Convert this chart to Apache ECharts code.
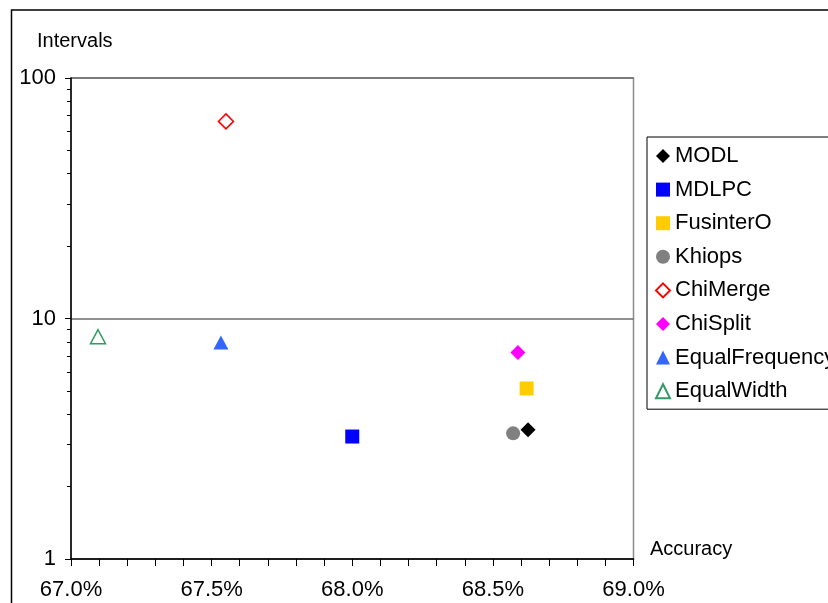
<!DOCTYPE html>
<html>
<head>
<meta charset="utf-8">
<script src="https://cdn.jsdelivr.net/npm/echarts@6/dist/echarts.min.js"></script>
<style>
  html, body { margin: 0; padding: 0; background: #fff; }
  #chart { width: 828px; height: 603px; }
</style>
</head>
<body>
<div id="chart"></div>
<script>
// Discretization methods: accuracy (%) versus number of intervals (log scale)
const methods   = ['MODL', 'MDLPC', 'FusinterO', 'Khiops', 'ChiMerge', 'ChiSplit', 'EqualFrequency', 'EqualWidth'];
const accuracy  = [68.625, 68.0, 68.62, 68.572, 67.551, 68.589, 67.533, 67.096];
const intervals = [3.45, 3.23, 5.12, 3.33, 66, 7.22, 7.95, 8.4];

const colors   = ['#000000', '#0000ff', '#ffcc00', '#808080', '#ff0000', '#ff00ff', '#3366ff', '#339966'];
const symbols  = ['diamond', 'rect', 'rect', 'circle', 'diamond', 'diamond', 'triangle', 'triangle'];
const hollow   = [false, false, false, false, true, false, false, true];
const sizes    = [15, 14, 14, 14, 15, 15, [15, 14], [15, 14]];

const xTicks = [67.0, 67.5, 68.0, 68.5, 69.0];
const yMinorTicks = [2, 3, 4, 5, 6, 7, 8, 9, 20, 30, 40, 50, 60, 70, 80, 90];

const FONT = "'Liberation Sans', Arial, sans-serif";

const series = methods.map((name, i) => ({
  name: name,
  type: 'scatter',
  symbol: symbols[i],
  symbolSize: sizes[i],
  data: [[accuracy[i], intervals[i]]],
  itemStyle: hollow[i]
    ? { color: '#ffffff', borderColor: colors[i], borderWidth: 1.5, opacity: 1 }
    : { color: colors[i], opacity: 1 },
  emphasis: { disabled: true }
}));

const chart = echarts.init(document.getElementById('chart'), null, { renderer: 'canvas' });

chart.setOption({
  animation: false,
  backgroundColor: '#ffffff',
  grid: {
    left: 71, top: 78, width: 562.5, height: 481,
    show: true, borderColor: '#8c8c8c', borderWidth: 1.5, backgroundColor: 'transparent'
  },
  xAxis: {
    type: 'value',
    min: xTicks[0],
    max: xTicks[xTicks.length - 1],
    interval: 0.5,
    axisLine: { show: true, onZero: false, lineStyle: { color: '#000', width: 1.5 } },
    axisTick: { show: true, length: 7, inside: false, lineStyle: { color: '#000', width: 1 } },
    minorTick: { show: true, splitNumber: 5, length: 7, lineStyle: { color: '#000', width: 1 } },
    splitLine: { show: false },
    axisLabel: {
      margin: 20,
      color: '#000',
      fontFamily: FONT,
      fontSize: 22,
      formatter: v => v.toFixed(1) + '%'
    }
  },
  yAxis: [
    {
      type: 'log',
      logBase: 10,
      min: 1,
      max: 100,
      axisLine: { show: true, onZero: false, lineStyle: { color: '#000', width: 1.5 } },
      axisTick: { show: true, length: 6, lineStyle: { color: '#000', width: 1 } },
      splitLine: { show: true, lineStyle: { color: '#6b6b6b', width: 1.5 } },
      axisLabel: { margin: 15, color: '#000', fontFamily: FONT, fontSize: 22 }
    },
    {
      // minor ticks at 2..9 of each decade
      type: 'log',
      logBase: 10,
      min: 1,
      max: 100,
      position: 'left',
      axisLine: { show: false },
      splitLine: { show: false },
      axisLabel: { show: false },
      axisTick: { show: true, length: 4, customValues: yMinorTicks, lineStyle: { color: '#000', width: 1 } }
    }
  ],
  legend: {
    orient: 'vertical',
    left: 647,
    top: 137,
    data: methods,
    itemWidth: 14,
    itemHeight: 14,
    itemGap: 11.6,
    padding: [8, 40, 7, 8],
    borderColor: '#000',
    borderWidth: 1,
    backgroundColor: '#fff',
    selectedMode: false,
    textStyle: { color: '#000', fontFamily: FONT, fontSize: 22, padding: [0, 0, 0, 0] }
  },
  graphic: [
    {
      type: 'rect',
      shape: { x: 11.5, y: 10, width: 900, height: 700 },
      style: { fill: 'none', stroke: '#000', lineWidth: 1.5 },
      silent: true,
      z: 100
    },
    {
      type: 'text',
      left: 37, top: 31,
      style: { text: 'Intervals', fill: '#000', font: "20px 'Liberation Sans', Arial, sans-serif" }
    },
    {
      type: 'text',
      left: 650, top: 539,
      style: { text: 'Accuracy', fill: '#000', font: "20px 'Liberation Sans', Arial, sans-serif" }
    }
  ],
  series: series
});
</script>
</body>
</html>
